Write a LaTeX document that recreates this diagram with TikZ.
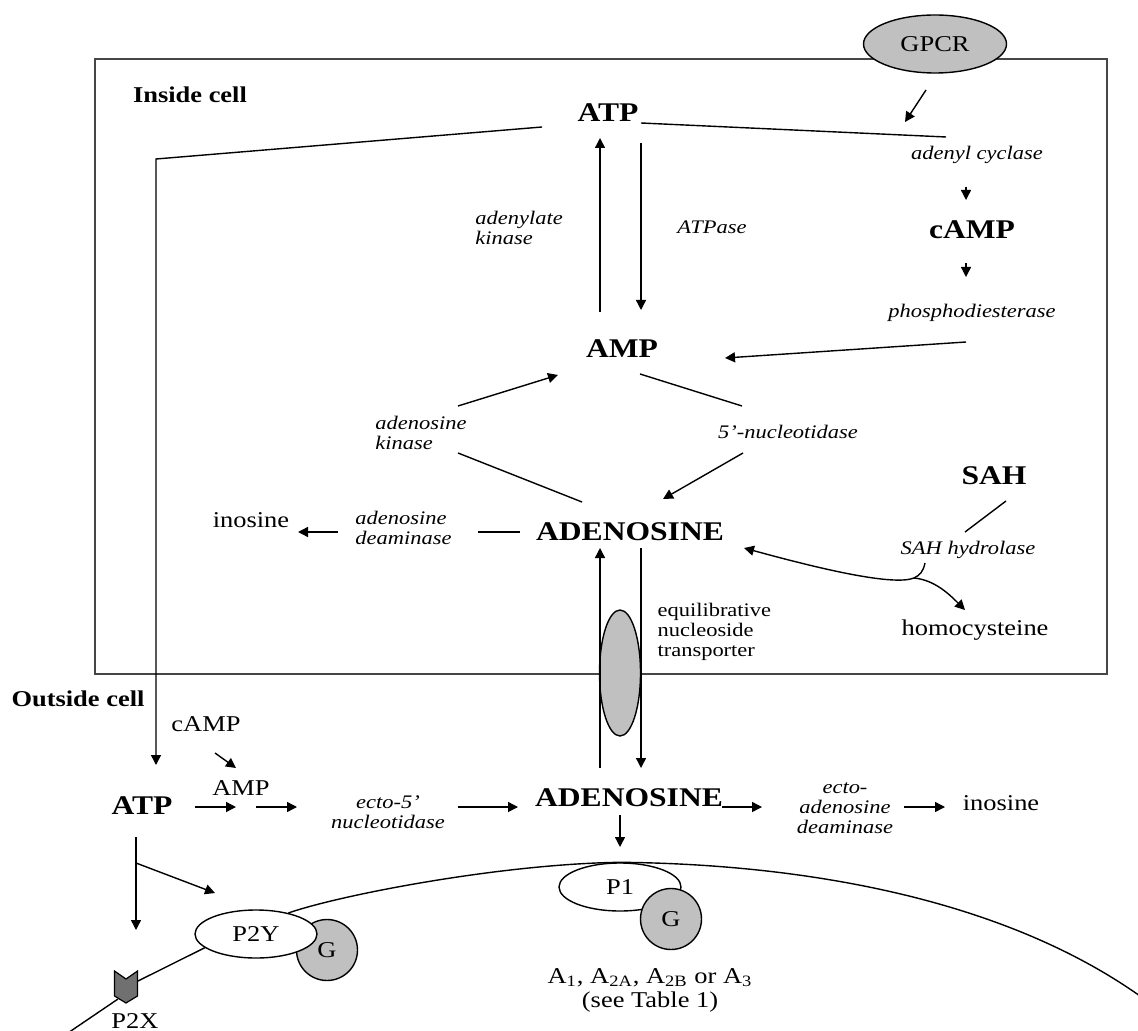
\documentclass[tikz,border=0pt]{standalone}
\usepackage{fontspec}
\setmainfont{Liberation Serif}[FakeStretch=1.17]
\usetikzlibrary{
  shapes.geometric,
  positioning,
  calc,
  arrows.meta}
\definecolor{proteincolor}{RGB}{192,192,192}
\definecolor{channelcolor}{RGB}{112,112,112}
\definecolor{framecolor}{RGB}{70,70,70}
\tikzset{
  %% metabolite : a molecule of the pathway
  metabolite/.style={
    font=\bfseries\fontsize{13.5}{16}\selectfont,
    inner sep=0pt
  },
  %% enzyme : the enzyme of a step
  enzyme/.style={
    font=\itshape\fontsize{9.6}{10}\selectfont,
    inner sep=0pt,
    align=left
  },
  %% plain : other labels
  plain/.style={
    font=\fontsize{11.3}{12}\selectfont,
    inner sep=0pt,
    align=center
  },
  %% region : inside / outside the cell
  region/.style={
    font=\bfseries\fontsize{11.3}{13}\selectfont,
    inner sep=0pt
  },
  %% protein : grey protein in a membrane
  protein/.style={
    ellipse,
    draw=black,
    fill=proteincolor,
    line width=0.7pt,
    inner sep=0pt,
    font=\fontsize{11.3}{12}\selectfont
  },
  %% receptor : white receptor on the membrane
  receptor/.style={
    ellipse,
    draw=black,
    fill=white,
    line width=0.7pt,
    minimum width=61pt,
    minimum height=24pt,
    inner sep=0pt,
    font=\fontsize{11.3}{12}\selectfont
  },
  %% gprotein : G protein next to a receptor
  gprotein/.style={
    circle,
    draw=black,
    fill=proteincolor,
    line width=0.7pt,
    minimum size=30.5pt,
    inner sep=0pt,
    font=\fontsize{11.3}{12}\selectfont
  },
  reaction_arrow/.style={-{Triangle[length=5pt,width=5pt]}, line width=0.7pt},
  reaction_line/.style={line width=0.7pt},
  membrane/.style={line width=0.7pt},
  %% frame : the cell
  frame/.style={framecolor, line width=1.1pt}
}

\begin{document}
\begin{tikzpicture}
  [x=0.5pt,
  y=-0.5pt]
  \useasboundingbox (0,0) rectangle (1138,1031);

  %% Cell
  \draw [frame] (95,59) rectangle (1107,674);
  \node (inside) [region] at (190,95) {Inside cell};
  \node (outside) [region] at (78,699) {Outside cell};

  \node (gpcr) [protein, minimum width=71.5pt, minimum height=29pt] at (935,44) {GPCR};
  \node (ent) [protein, minimum width=20.5pt, minimum height=63pt] at (620,673) {};
  \node (entlabel) [plain, font=\fontsize{9.6}{10}\selectfont, align=left,
    right=8pt of ent, yshift=20.5pt]{%
    equilibrative\\nucleoside\\transporter
  };

  %%% Inside cell
  \node (ATPin) [metabolite] at (608,113) {ATP};
  \node (AMPin) [metabolite] at (622,349) {AMP};
  \node (ADOin) [metabolite] at (630,532) {ADENOSINE};
  \node (cAMPin) [metabolite] at (972,230) {cAMP};
  \node (SAH) [metabolite] at (994,476) {SAH};
  \node (inoin) [plain] at (251,520) {inosine};
  \node (hcy) [plain] at (975,630) {homocysteine};

  \node (adk) [enzyme, anchor=west] at (475,228) {%
    adenylate\\kinase
  };
  \node (atpase) [enzyme] at (712,227) {ATPase};
  \node (adcyc) [enzyme] at (977,155) {adenyl cyclase};
  \node (pde) [enzyme] at (972,313) {phosphodiesterase};
  \node (adok) [enzyme, anchor=west] at (375,433) {%
    adenosine\\kinase
  };
  \node (nt5) [enzyme] at (788,432) {5’-nucleotidase};
  \node (ada) [enzyme, anchor=west] at (355,528) {%
    adenosine\\deaminase
  };
  \node (sahh) [enzyme] at (968,550) {SAH hydrolase};

  %%% Outside cell
  \node (ATPout) [metabolite] at (142,806) {ATP};
  \node (ADOout) [metabolite] at (629,798) {ADENOSINE};
  \node (cAMPout) [plain] at (206,724) {cAMP};
  \node (AMPout) [plain] at (241,788) {AMP};
  \node (inoout) [plain] at (1001,803) {inosine};
  \node (ecto5) [enzyme, align=center] at (388,812) {%
    ecto-5’\\nucleotidase
  };
  \node (ectoada) [enzyme, align=center] at (845,808) {%
    ecto-\\adenosine\\deaminase
  };

  %% Receptors
  \node (G2) [gprotein] at (327,950) {G};
  \node (P2Y) [receptor] at (256,934) {P2Y};
  \node (P1) [receptor] at (620,887) {P1};
  \node (G1) [gprotein] at (671,919) {G};
  \node (subtypes) [plain] at (650,990) {%
    A\textsubscript{1}, A\textsubscript{2A}, A\textsubscript{2B} or A\textsubscript{3}\\(see Table 1)
  };

  \coordinate (p2x) at (126,987);
  \draw [membrane] (P2Y.33) .. controls (340,895) and (500,864) .. (P1.north)
    .. controls (800,864) and (1000,897) .. (1140,996);
  \draw [membrane] (P2Y.195) -- ([shift={(12,-6)}]p2x);
  \draw [membrane] ([shift={(-8,12)}]p2x) -- ++(-59,40);
  \filldraw [fill=channelcolor, line width=0.6pt] ([shift={(-11.5,-16)}]p2x)
    -- ++(11.5,8) -- ++(11.5,-8) -- ++(0,25) -- ++(-11.5,7) -- ++(-11.5,-7) -- cycle;
  \node (p2xlabel) [plain, below=13pt of p2x, xshift=4.5pt] {P2X};

  %% Connections inside
  \draw [reaction_arrow] ([shift={(-66,14)}]ATPin.center) -- ++(-386,32) -- ++(0,606);
  \draw [reaction_line] ([shift={(33,10)}]ATPin.center) -- ++(305,14);
  \draw [reaction_arrow] ([shift={(-9,46)}]gpcr.center) -- ++(-21,32);
  \draw [reaction_arrow] ([shift={(-11,32)}]adcyc.center) -- ++(0,13);
  \draw [reaction_arrow] ([shift={(-6,33)}]cAMPin.center) -- ++(0,14);
  \draw [reaction_arrow] ([shift={(-6,29)}]pde.center) -- ++(-241,16);
  \draw [reaction_arrow] ([shift={(-22,-37)}]AMPin.center) -- ++(0,-174);
  \draw [reaction_arrow] ([shift={(33,30)}]ATPin.center) -- ++(0,167);
  \draw [reaction_arrow] ([shift={(-164,57)}]AMPin.center) -- ++(100,-31);
  \draw [reaction_line] ([shift={(-172,-79)}]ADOin.center) -- ++(124,49);
  \draw [reaction_line] ([shift={(18,25)}]AMPin.center) -- ++(102,32);
  \draw [reaction_arrow] ([shift={(-45,21)}]nt5.center) -- ++(-80,46);
  \draw [reaction_line] ([shift={(-110,0)}]ADOin.center) -- ++(-42,0);
  \draw [reaction_arrow] ([shift={(87,12)}]inoin.center) -- ++(-40,0);
  \draw [reaction_line] ([shift={(12,25)}]SAH.center) -- ++(-41,31);

  % SAH hydrolase fork
  \coordinate (sahfork) at (914,578);
  \draw [reaction_line] ([shift={(-43,13)}]sahh.center) .. controls +(-2,9) and +(6,-3) .. (sahfork);
  \draw [reaction_arrow] (sahfork) .. controls +(-20,8) and +(80,22) .. ([shift={(114,16)}]ADOin.center);
  \draw [reaction_arrow] (sahfork) .. controls +(21,2) and +(-15,-15) .. ([shift={(-10,-20)}]hcy.center);

  % transporter
  \draw [reaction_arrow] ([shift={(-29,-30)}]ADOout.center) -- ++(0,-220);
  \draw [reaction_arrow] ([shift={(11,16)}]ADOin.center) -- ++(0,220);

  %% Connections outside
  \draw [reaction_arrow] ([shift={(9,29)}]cAMPout.center) -- ++(21,15);
  \draw [reaction_arrow] ([shift={(53,1)}]ATPout.center) -- ++(41,0);
  \draw [reaction_arrow] ([shift={(15,19)}]AMPout.center) -- ++(41,0);
  \draw [reaction_arrow] ([shift={(70,-5)}]ecto5.center) -- ++(60,0);
  \draw [reaction_arrow] ([shift={(93,9)}]ADOout.center) -- ++(40,0);
  \draw [reaction_arrow] ([shift={(59,-1)}]ectoada.center) -- ++(41,0);
  \draw [reaction_arrow] ([shift={(-9,17)}]ADOout.center) -- ++(0,32);
  \draw [reaction_arrow] ([shift={(-6,31)}]ATPout.center) -- ++(0,93);
  \draw [reaction_arrow] ([shift={(-6,57)}]ATPout.center) -- ++(79,30);

\end{tikzpicture}
\end{document}
